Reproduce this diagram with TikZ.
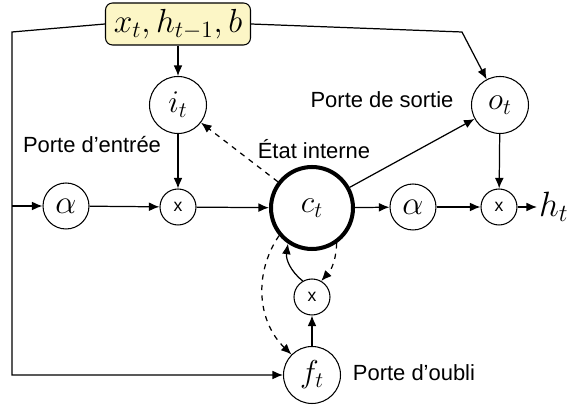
\RequirePackage{fix-cm}
\documentclass[tikz,border=0pt]{standalone}
\usepackage{fontspec}
\setsansfont{Liberation Sans}
\usepackage{amsmath}
\usetikzlibrary{arrows.meta}
\definecolor{inputyellow}{RGB}{252,246,198}
\tikzstyle{arrow} = [line width=0.7pt,-{Latex[length=6pt,width=5pt]}]
\tikzstyle{line} = [line width=0.7pt]
\tikzstyle{gate} = [draw, circle, line width=0.6pt, inner sep=0pt, minimum size=1.14cm, font=\fontsize{18}{21}\selectfont]
\tikzstyle{squash} = [draw, circle, line width=0.6pt, inner sep=0pt, minimum size=0.92cm, font=\fontsize{19}{22}\selectfont]
\tikzstyle{mult} = [draw, circle, line width=0.6pt, inner sep=0pt, minimum size=0.72cm, font=\fontsize{10}{11}\sffamily]
\tikzstyle{gatetext} = [font=\fontsize{12.5}{14}\sffamily, inner sep=1pt]

\begin{document}
\begin{tikzpicture}[x=0.02cm,y=-0.02cm]
\useasboundingbox (0,0) rectangle (576,411);
\node[draw, fill=inputyellow, rounded corners=4pt, line width=0.6pt, inner sep=0pt, minimum width=2.9cm, minimum height=0.84cm, font=\fontsize{19}{22}\selectfont] (in) at (178,24) {$x_t, h_{t-1}, b$};
\node[gate] (i) at (178,105) {$i_t$};
\node[gate] (o) at (500,105) {$o_t$};
\node[gate] (f) at (312,375) {$f_t$};
\node[gate, line width=2.3pt, minimum size=1.64cm] (c) at (312,208) {$c_t$};
\node[squash] (a1) at (66,206) {$\alpha$};
\node[squash] (a2) at (413,207) {$\alpha$};
\node[mult] (m1) at (178,207) {x};
\node[mult] (m2) at (499,207) {x};
\node[mult] (m3) at (312,297) {x};
\node[anchor=west, inner sep=1pt, font=\fontsize{20}{23}\selectfont] (h) at (537,207) {$h_t$};
\node[gatetext] (entree) at (92,145) {Porte d'entrée};
\node[gatetext] (interne) at (314,149) {État interne};
\node[gatetext] (sortie) at (382,100) {Porte de sortie};
\node[gatetext] (oubli) at (414,373) {Porte d'oubli};
\coordinate (tl) at (12,32);
\coordinate (bl) at (12,375);
\coordinate (split) at (12,206);
\coordinate (tr) at (462,32);
\draw[arrow] (in.west) -- (tl) -- (bl) -- (f.west);
\draw[arrow] (split) -- (a1);
\draw[arrow] (a1) -- (m1);
\draw[arrow] (m1) -- (c);
\draw[arrow] (c) -- (a2);
\draw[arrow] (a2) -- (m2);
\draw[arrow] (m2) -- (h);
\draw[arrow] (in) -- (i);
\draw[arrow] (i) -- (m1);
\draw[arrow] (in.east) -- (tr) -- (o);
\draw[arrow] (o) -- (m2);
\draw[arrow] (c) -- (o);
\draw[arrow, dashed] (c) -- (i);
\draw[arrow] (f) -- (m3);
\draw[arrow] (m3.120) to[bend left=30] (c.236);
\draw[arrow, dashed] (c.305) to[bend left=20] (m3.60);
\draw[arrow, dashed] (c.220) to[bend right=40] (f.135);
\end{tikzpicture}
\end{document}
